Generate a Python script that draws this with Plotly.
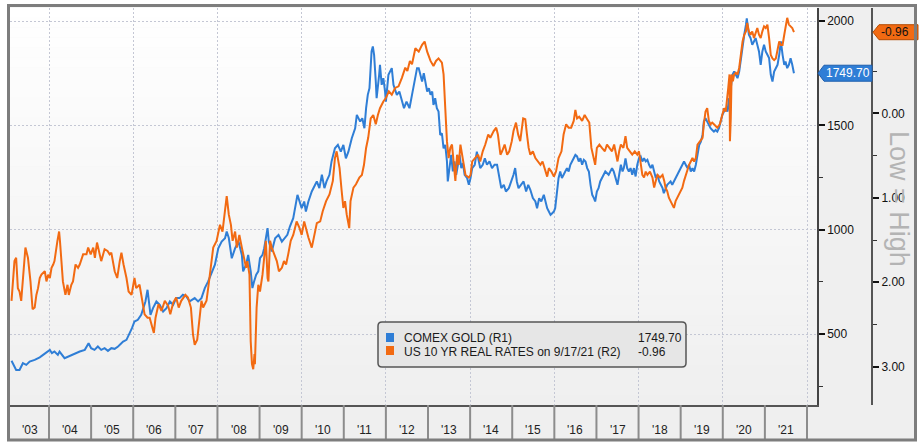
import plotly.graph_objects as go

# ---------------- data ----------------
gold_t = [2003.11, 2003.22, 2003.30, 2003.38, 2003.46, 2003.54, 2003.66, 2003.78, 2003.86, 2003.96,
          2004.02, 2004.07, 2004.13, 2004.21, 2004.25, 2004.37, 2004.45, 2004.53, 2004.61, 2004.73,
          2004.85, 2004.94, 2005.00, 2005.08, 2005.16, 2005.24, 2005.32, 2005.40, 2005.48, 2005.56,
          2005.64, 2005.76, 2005.84, 2005.92, 2005.97, 2006.03, 2006.11, 2006.19, 2006.29, 2006.34,
          2006.41, 2006.47, 2006.55, 2006.63, 2006.71, 2006.79, 2006.87, 2006.95, 2007.02, 2007.10,
          2007.18, 2007.26, 2007.34, 2007.46, 2007.54, 2007.62, 2007.70, 2007.78, 2007.87, 2007.94,
          2008.02, 2008.10, 2008.18, 2008.22, 2008.27, 2008.34, 2008.42, 2008.50, 2008.58, 2008.61,
          2008.68, 2008.73, 2008.79, 2008.83, 2008.87, 2008.92, 2008.97, 2009.01, 2009.07, 2009.11,
          2009.15, 2009.19, 2009.22, 2009.29, 2009.37, 2009.45, 2009.53, 2009.60, 2009.66, 2009.72,
          2009.80, 2009.90, 2009.95, 2010.00, 2010.06, 2010.10, 2010.16, 2010.24, 2010.32, 2010.36,
          2010.42, 2010.48, 2010.54, 2010.59, 2010.66, 2010.71, 2010.79, 2010.86, 2010.93, 2010.99,
          2011.05, 2011.11, 2011.19, 2011.27, 2011.31, 2011.39, 2011.44, 2011.49, 2011.53, 2011.57,
          2011.61, 2011.64, 2011.66, 2011.69, 2011.72, 2011.76, 2011.78, 2011.84, 2011.86, 2011.90,
          2011.94, 2011.98, 2012.00, 2012.06, 2012.14, 2012.18, 2012.26, 2012.32, 2012.38, 2012.43,
          2012.49, 2012.56, 2012.62, 2012.68, 2012.74, 2012.78, 2012.82, 2012.86, 2012.90, 2012.94,
          2012.98, 2013.02, 2013.06, 2013.10, 2013.13, 2013.17, 2013.21, 2013.25, 2013.29, 2013.33,
          2013.37, 2013.41, 2013.45, 2013.47, 2013.51, 2013.55, 2013.59, 2013.63, 2013.67, 2013.71,
          2013.75, 2013.79, 2013.83, 2013.87, 2013.93, 2013.97, 2014.01, 2014.05, 2014.11, 2014.16,
          2014.20, 2014.24, 2014.30, 2014.35, 2014.40, 2014.46, 2014.52, 2014.58, 2014.64, 2014.69,
          2014.74, 2014.80, 2014.85, 2014.92, 2014.98, 2015.03, 2015.07, 2015.11, 2015.15, 2015.22,
          2015.27, 2015.33, 2015.38, 2015.43, 2015.49, 2015.55, 2015.59, 2015.64, 2015.69, 2015.75,
          2015.79, 2015.83, 2015.87, 2015.91, 2015.95, 2015.99, 2016.02, 2016.06, 2016.10, 2016.14,
          2016.18, 2016.22, 2016.26, 2016.30, 2016.34, 2016.38, 2016.42, 2016.46, 2016.50, 2016.54,
          2016.58, 2016.62, 2016.66, 2016.70, 2016.74, 2016.78, 2016.82, 2016.86, 2016.90, 2016.94,
          2016.97, 2017.01, 2017.05, 2017.09, 2017.13, 2017.17, 2017.21, 2017.29, 2017.33, 2017.37,
          2017.41, 2017.45, 2017.50, 2017.54, 2017.58, 2017.62, 2017.65, 2017.69, 2017.73, 2017.77,
          2017.81, 2017.85, 2017.89, 2017.93, 2017.97, 2018.01, 2018.05, 2018.09, 2018.13, 2018.17,
          2018.21, 2018.25, 2018.29, 2018.33, 2018.37, 2018.41, 2018.45, 2018.49, 2018.53, 2018.57,
          2018.60, 2018.64, 2018.68, 2018.72, 2018.76, 2018.80, 2018.84, 2018.88, 2018.92, 2018.96,
          2019.00, 2019.04, 2019.08, 2019.12, 2019.16, 2019.20, 2019.24, 2019.28, 2019.32, 2019.36,
          2019.40, 2019.44, 2019.48, 2019.52, 2019.55, 2019.59, 2019.63, 2019.67, 2019.71, 2019.75,
          2019.79, 2019.83, 2019.87, 2019.91, 2019.95, 2019.99, 2020.03, 2020.07, 2020.11, 2020.15,
          2020.17, 2020.19, 2020.23, 2020.27, 2020.31, 2020.35, 2020.39, 2020.43, 2020.47, 2020.51,
          2020.55, 2020.57, 2020.60, 2020.62, 2020.66, 2020.70, 2020.74, 2020.78, 2020.82, 2020.86,
          2020.90, 2020.94, 2020.98, 2021.02, 2021.06, 2021.10, 2021.14, 2021.18, 2021.22, 2021.26,
          2021.30, 2021.34, 2021.38, 2021.42, 2021.46, 2021.49, 2021.53, 2021.57, 2021.61, 2021.65,
          2021.69]
gold_v = [372, 328, 328, 360, 352, 368, 376, 388, 400, 416,
          424, 408, 416, 400, 416, 384, 392, 400, 408, 416,
          424, 456, 432, 424, 440, 424, 432, 419, 432, 429,
          440, 464, 472, 504, 528, 560, 568, 592, 656, 712,
          592, 624, 656, 640, 608, 624, 656, 640, 672, 672,
          688, 680, 656, 672, 656, 672, 720, 752, 800, 832,
          911, 943, 959, 991, 960, 863, 911, 943, 879, 800,
          832, 879, 800, 720, 752, 784, 800, 863, 879, 911,
          959, 1007, 943, 895, 959, 975, 943, 959, 975, 1015,
          1055, 1167, 1135, 1103, 1135, 1087, 1135, 1183, 1215, 1231,
          1199, 1263, 1199, 1231, 1263, 1327, 1390, 1406, 1374, 1406,
          1342, 1374, 1438, 1486, 1550, 1518, 1534, 1486, 1582, 1646,
          1678, 1774, 1854, 1878, 1838, 1710, 1630, 1742, 1790, 1694,
          1726, 1662, 1614, 1742, 1774, 1694, 1646, 1662, 1614, 1582,
          1614, 1582, 1646, 1710, 1774, 1774, 1742, 1710, 1750, 1694,
          1662, 1678, 1646, 1662, 1598, 1630, 1582, 1566, 1454, 1462,
          1390, 1406, 1327, 1231, 1311, 1358, 1279, 1327, 1263, 1311,
          1358, 1295, 1319, 1263, 1247, 1215, 1247, 1295, 1311, 1374,
          1327, 1295, 1311, 1342, 1311, 1327, 1295, 1311, 1311, 1247,
          1199, 1215, 1183, 1199, 1231, 1263, 1295, 1231, 1199, 1215,
          1231, 1183, 1215, 1191, 1151, 1135, 1103, 1151, 1135, 1167,
          1135, 1103, 1087, 1071, 1079, 1087, 1103, 1183, 1247, 1279,
          1247, 1263, 1279, 1295, 1279, 1311, 1327, 1342, 1358, 1351,
          1327, 1342, 1311, 1335, 1327, 1295, 1279, 1215, 1167, 1151,
          1135, 1183, 1199, 1231, 1247, 1263, 1279, 1263, 1279, 1295,
          1279, 1247, 1215, 1263, 1311, 1279, 1295, 1342, 1295, 1279,
          1295, 1263, 1295, 1255, 1311, 1342, 1351, 1327, 1342, 1327,
          1335, 1311, 1295, 1311, 1279, 1247, 1263, 1231, 1215, 1199,
          1175, 1199, 1215, 1223, 1231, 1215, 1231, 1247, 1263, 1279,
          1295, 1311, 1327, 1311, 1295, 1311, 1279, 1295, 1279, 1311,
          1358, 1406, 1422, 1454, 1518, 1534, 1518, 1502, 1486, 1478,
          1470, 1478, 1470, 1486, 1518, 1550, 1566, 1582, 1566, 1630,
          1566, 1678, 1742, 1758, 1742, 1726, 1758, 1822, 1886, 1934,
          1981, 2013, 1966, 1934, 1918, 1886, 1902, 1918, 1886, 1854,
          1790, 1854, 1886, 1854, 1838, 1822, 1742, 1710, 1758, 1774,
          1790, 1838, 1902, 1838, 1790, 1806, 1774, 1790, 1822, 1790,
          1749.70]

rate_t = [2003.11, 2003.18, 2003.22, 2003.26, 2003.30, 2003.34, 2003.44, 2003.50, 2003.56, 2003.61,
          2003.66, 2003.70, 2003.74, 2003.78, 2003.82, 2003.90, 2003.94, 2003.98, 2004.02, 2004.06,
          2004.10, 2004.13, 2004.20, 2004.24, 2004.26, 2004.33, 2004.39, 2004.44, 2004.47, 2004.53,
          2004.57, 2004.63, 2004.69, 2004.73, 2004.81, 2004.89, 2004.93, 2004.99, 2005.05, 2005.09,
          2005.14, 2005.20, 2005.24, 2005.32, 2005.39, 2005.44, 2005.48, 2005.56, 2005.62, 2005.68,
          2005.72, 2005.77, 2005.84, 2005.89, 2005.96, 2006.03, 2006.07, 2006.15, 2006.19, 2006.27,
          2006.34, 2006.39, 2006.49, 2006.53, 2006.60, 2006.67, 2006.75, 2006.83, 2006.88, 2006.95,
          2007.02, 2007.08, 2007.14, 2007.24, 2007.30, 2007.37, 2007.42, 2007.46, 2007.52, 2007.58,
          2007.62, 2007.66, 2007.74, 2007.79, 2007.86, 2007.90, 2007.98, 2008.06, 2008.12, 2008.22,
          2008.27, 2008.32, 2008.36, 2008.42, 2008.46, 2008.52, 2008.58, 2008.63, 2008.68, 2008.71,
          2008.76, 2008.79, 2008.82, 2008.85, 2008.88, 2008.89, 2008.93, 2008.97, 2009.01, 2009.07,
          2009.11, 2009.15, 2009.19, 2009.21, 2009.25, 2009.29, 2009.35, 2009.41, 2009.46, 2009.53,
          2009.58, 2009.63, 2009.68, 2009.74, 2009.80, 2009.88, 2009.95, 2010.00, 2010.06, 2010.10,
          2010.16, 2010.24, 2010.29, 2010.36, 2010.44, 2010.50, 2010.58, 2010.66, 2010.74, 2010.79,
          2010.83, 2010.90, 2010.95, 2010.99, 2011.03, 2011.07, 2011.13, 2011.16, 2011.23, 2011.29,
          2011.37, 2011.43, 2011.48, 2011.53, 2011.58, 2011.64, 2011.70, 2011.76, 2011.81, 2011.86,
          2011.94, 2012.00, 2012.07, 2012.14, 2012.22, 2012.30, 2012.38, 2012.46, 2012.51, 2012.57,
          2012.62, 2012.70, 2012.78, 2012.86, 2012.92, 2012.98, 2013.06, 2013.13, 2013.19, 2013.25,
          2013.33, 2013.37, 2013.41, 2013.45, 2013.49, 2013.53, 2013.57, 2013.61, 2013.65, 2013.69,
          2013.73, 2013.77, 2013.81, 2013.85, 2013.89, 2013.97, 2014.01, 2014.05, 2014.12, 2014.19,
          2014.24, 2014.30, 2014.36, 2014.43, 2014.48, 2014.56, 2014.62, 2014.66, 2014.72, 2014.76,
          2014.82, 2014.88, 2014.93, 2014.99, 2015.03, 2015.09, 2015.14, 2015.19, 2015.26, 2015.31,
          2015.35, 2015.39, 2015.43, 2015.49, 2015.55, 2015.61, 2015.67, 2015.72, 2015.77, 2015.83,
          2015.87, 2015.93, 2015.99, 2016.04, 2016.10, 2016.17, 2016.22, 2016.28, 2016.34, 2016.40,
          2016.46, 2016.50, 2016.54, 2016.59, 2016.66, 2016.72, 2016.78, 2016.83, 2016.88, 2016.94,
          2016.97, 2017.01, 2017.07, 2017.13, 2017.20, 2017.25, 2017.31, 2017.37, 2017.42, 2017.46,
          2017.50, 2017.54, 2017.58, 2017.64, 2017.69, 2017.73, 2017.80, 2017.85, 2017.91, 2017.97,
          2018.01, 2018.05, 2018.09, 2018.13, 2018.17, 2018.21, 2018.27, 2018.33, 2018.37, 2018.41,
          2018.45, 2018.51, 2018.57, 2018.61, 2018.64, 2018.68, 2018.72, 2018.76, 2018.80, 2018.84,
          2018.88, 2018.92, 2018.96, 2019.00, 2019.04, 2019.08, 2019.12, 2019.16, 2019.20, 2019.24,
          2019.28, 2019.32, 2019.36, 2019.40, 2019.46, 2019.52, 2019.55, 2019.59, 2019.63, 2019.67,
          2019.71, 2019.75, 2019.79, 2019.83, 2019.87, 2019.93, 2019.99, 2020.03, 2020.07, 2020.11,
          2020.13, 2020.16, 2020.17, 2020.19, 2020.21, 2020.24, 2020.27, 2020.31, 2020.35, 2020.39,
          2020.43, 2020.47, 2020.51, 2020.55, 2020.58, 2020.62, 2020.66, 2020.70, 2020.74, 2020.78,
          2020.82, 2020.86, 2020.90, 2020.94, 2020.98, 2021.02, 2021.06, 2021.10, 2021.14, 2021.18,
          2021.22, 2021.26, 2021.30, 2021.34, 2021.38, 2021.42, 2021.46, 2021.49, 2021.53, 2021.57,
          2021.61, 2021.65, 2021.69]
rate_v = [2.22, 1.75, 1.71, 2.07, 2.11, 2.22, 1.59, 1.71, 1.99, 2.32,
          2.30, 2.15, 2.07, 1.95, 1.91, 1.87, 1.99, 1.91, 1.95, 1.83,
          1.79, 1.75, 1.51, 1.40, 1.51, 1.99, 2.15, 2.03, 2.15, 2.03,
          1.99, 1.79, 1.83, 1.79, 1.67, 1.67, 1.59, 1.67, 1.59, 1.71,
          1.53, 1.67, 1.75, 1.61, 1.63, 1.67, 1.65, 1.87, 1.95, 1.75,
          1.65, 1.79, 1.95, 2.11, 2.15, 1.95, 2.07, 2.03, 2.15, 2.38,
          2.42, 2.42, 2.60, 2.42, 2.26, 2.34, 2.22, 2.28, 2.38, 2.24,
          2.18, 2.30, 2.22, 2.15, 2.18, 2.30, 2.62, 2.74, 2.68, 2.42,
          2.22, 2.30, 2.22, 2.03, 1.75, 1.59, 1.51, 1.32, 1.40, 0.98,
          1.20, 1.32, 1.51, 1.40, 1.59, 1.44, 1.59, 1.71, 1.83, 1.75,
          1.91, 2.70, 2.97, 3.03, 2.85, 2.97, 2.30, 2.03, 2.11, 1.91,
          1.67, 1.51, 1.95, 1.99, 1.51, 1.59, 1.67, 1.75, 1.87, 1.83,
          1.75, 1.79, 1.67, 1.51, 1.44, 1.28, 1.36, 1.44, 1.28, 1.36,
          1.47, 1.59, 1.47, 1.30, 1.28, 1.16, 1.04, 0.96, 0.80, 0.53,
          0.45, 0.65, 0.92, 1.12, 1.04, 1.20, 1.36, 1.04, 0.88, 0.84,
          0.76, 0.73, 0.61, 0.41, 0.29, 0.06, 0.02, 0.13, 0.02, -0.06,
          -0.14, -0.18, -0.26, -0.22, -0.30, -0.32, -0.42, -0.54, -0.50, -0.62,
          -0.58, -0.77, -0.73, -0.81, -0.85, -0.73, -0.62, -0.56, -0.62, -0.65,
          -0.60, -0.46, -0.06, 0.33, 0.53, 0.41, 0.37, 0.61, 0.80, 0.49,
          0.61, 0.37, 0.49, 0.61, 0.73, 0.76, 0.73, 0.57, 0.53, 0.49,
          0.57, 0.45, 0.37, 0.25, 0.29, 0.21, 0.17, 0.25, 0.49, 0.45,
          0.37, 0.49, 0.45, 0.33, 0.21, 0.11, 0.25, 0.33, 0.06, 0.07,
          0.25, 0.41, 0.49, 0.45, 0.53, 0.57, 0.61, 0.57, 0.65, 0.75,
          0.65, 0.69, 0.75, 0.69, 0.53, 0.45, 0.25, 0.13, 0.17, 0.17,
          0.09, -0.04, 0.06, 0.04, 0.09, 0.02, 0.07, 0.11, 0.41, 0.53,
          0.61, 0.41, 0.37, 0.41, 0.45, 0.37, 0.41, 0.45, 0.37, 0.49,
          0.57, 0.45, 0.37, 0.41, 0.27, 0.41, 0.45, 0.49, 0.45, 0.49,
          0.45, 0.61, 0.73, 0.76, 0.69, 0.73, 0.69, 0.76, 0.88, 0.80,
          0.73, 0.76, 0.73, 0.80, 0.88, 0.92, 1.00, 1.04, 1.08, 1.12,
          1.04, 1.00, 0.96, 0.92, 0.88, 0.80, 0.73, 0.69, 0.61, 0.57,
          0.53, 0.57, 0.53, 0.37, 0.33, 0.29, 0.13, -0.02, -0.06, 0.09,
          0.13, 0.11, 0.13, 0.15, 0.17, 0.13, 0.02, -0.06, -0.02, -0.18,
          -0.30, -0.46, 0.33, 0.06, -0.46, -0.38, -0.46, -0.48, -0.46, -0.54,
          -0.73, -0.85, -0.93, -0.97, -1.07, -0.97, -0.93, -0.97, -0.89, -0.95,
          -1.01, -0.93, -0.89, -0.97, -1.03, -1.01, -1.05, -0.89, -0.69, -0.65,
          -0.63, -0.65, -0.77, -0.85, -0.81, -0.81, -0.93, -1.01, -1.13, -1.05,
          -1.03, -1.01, -0.96]

year_labels = ["'03", "'04", "'05", "'06", "'07", "'08", "'09", "'10", "'11", "'12",
               "'13", "'14", "'15", "'16", "'17", "'18", "'19", "'20", "'21"]
label_years = [2003, 2004, 2005, 2006, 2007, 2008, 2009, 2010, 2011, 2012,
               2013, 2014, 2015, 2016, 2017, 2018, 2019, 2020, 2021]
gold_ticks = [500, 1000, 1500, 2000]
gold_minor = [250, 750, 1250, 1750]
rate_ticks = [0, 1, 2, 3]
rate_minor = [-0.5, 0.5, 1.5, 2.5]
gold_name = "COMEX GOLD (R1)"
rate_name = "US 10 YR REAL RATES on 9/17/21 (R2)"
side_note = "Low = High"

# ---------------- geometry / style ----------------
BLUE = "#2f7ed6"
ORANGE = "#f26a12"
GRID = "#c4c7d4"
GRIDDASH = "2px,2px"
FONT = "Liberation Sans"

W, H = 920, 445
PL, PR, PT, PB = 10, 817, 8, 405      # plot area (px)
R2X = 872                              # second right axis (px)


def px(x):
    return (x - PL) / (R2X - PL)


def py(y):
    return (PB - y) / (PB - PT)


# x: year boundary 2004 at px 49, 2022 at px 807
XPPY = (807 - 49) / 18.0
X0 = 2004 + (PL - 49) / XPPY
X1 = 2004 + (PR - 49) / XPPY
# gold axis: 2000 at y=21, 500 at y=334
GK = (334 - 21) / 1500.0
G_TOP = 2000 + (21 - PT) / GK
G_BOT = 500 - (PB - 334) / GK
# rates axis (inverted): 0 at y=113.3, 3 at y=366.7
RK = (366.7 - 113.3) / 3.0
R_TOP = -(113.3 - PT) / RK
R_BOT = (PB - 113.3) / RK


def gold_px(v):
    return 21 + (2000 - v) * GK


def rate_px(v):
    return 113.3 + v * RK


fig = go.Figure()
fig.add_trace(go.Scatter(x=gold_t, y=gold_v, mode="lines", name=gold_name,
                         line=dict(color=BLUE, width=2), xaxis="x", yaxis="y",
                         hoverinfo="skip"))
fig.add_trace(go.Scatter(x=rate_t, y=rate_v, mode="lines", name=rate_name,
                         line=dict(color=ORANGE, width=2), xaxis="x", yaxis="y2",
                         hoverinfo="skip"))

shapes = []
# outer light-gray panel
shapes.append(dict(type="rect", xref="paper", yref="paper", layer="below",
                   x0=px(7), x1=px(917), y0=py(441), y1=py(5),
                   fillcolor="#efefef", line=dict(width=0)))
# vertical gradient inside plot area
NB = 40
for i in range(NB):
    y0p = PT + (PB - PT) * i / NB
    y1p = PT + (PB - PT) * (i + 1) / NB
    c = int(round(255 - 16 * (i + 0.5) / NB))
    shapes.append(dict(type="rect", xref="paper", yref="paper", layer="below",
                       x0=px(PL), x1=px(PR), y0=py(y1p), y1=py(y0p) + 0.001,
                       fillcolor=f"rgb({c},{c},{c})", line=dict(width=0)))
# year separators in the label band
for yr in label_years[1:] + [label_years[-1] + 1]:
    shapes.append(dict(type="line", xref="x", yref="paper",
                       x0=yr, x1=yr, y0=py(405), y1=py(441),
                       line=dict(color="#8c8c8c", width=2)))


def poly(points):
    d = "M " + " L ".join(f"{px(a):.5f},{py(b):.5f}" for a, b in points) + " Z"
    return d


# legend box (rounded)
lx0, lx1, ly0, ly1, r = 378, 686, 322, 367, 4
legend_path = (f"M {px(lx0 + r)},{py(ly0)} L {px(lx1 - r)},{py(ly0)} "
               f"Q {px(lx1)},{py(ly0)} {px(lx1)},{py(ly0 + r)} L {px(lx1)},{py(ly1 - r)} "
               f"Q {px(lx1)},{py(ly1)} {px(lx1 - r)},{py(ly1)} L {px(lx0 + r)},{py(ly1)} "
               f"Q {px(lx0)},{py(ly1)} {px(lx0)},{py(ly1 - r)} L {px(lx0)},{py(ly0 + r)} "
               f"Q {px(lx0)},{py(ly0)} {px(lx0 + r)},{py(ly0)} Z")
shapes.append(dict(type="path", xref="paper", yref="paper", layer="above",
                   path=legend_path, fillcolor="#e6e6e6",
                   line=dict(color="#555555", width=1.5)))
shapes.append(dict(type="rect", xref="paper", yref="paper", layer="above",
                   x0=px(386), x1=px(394), y0=py(342), y1=py(333),
                   fillcolor=BLUE, line=dict(width=0)))
shapes.append(dict(type="rect", xref="paper", yref="paper", layer="above",
                   x0=px(386), x1=px(394), y0=py(355), y1=py(346),
                   fillcolor=ORANGE, line=dict(width=0)))

# last-value tags
gy = gold_px(gold_v[-1])
shapes.append(dict(type="path", xref="paper", yref="paper", layer="above",
                   path=poly([(818, gy), (824, gy - 8), (872, gy - 8), (872, gy + 8), (824, gy + 8)]),
                   fillcolor=BLUE, line=dict(color="#1f5fae", width=1)))
ry = rate_px(rate_v[-1])
shapes.append(dict(type="path", xref="paper", yref="paper", layer="above",
                   path=poly([(873, ry), (879, ry - 7.5), (918, ry - 7.5), (918, ry + 7.5), (879, ry + 7.5)]),
                   fillcolor=ORANGE, line=dict(color="#b44a00", width=1)))
# outer frame
shapes.append(dict(type="rect", xref="paper", yref="paper", layer="above",
                   x0=px(8.5), x1=px(915.5), y0=py(440), y1=py(5.5),
                   fillcolor="rgba(0,0,0,0)", line=dict(color="#7d7d7d", width=3)))

ann = []
for yr, lab in zip(label_years, year_labels):
    lo = max(yr, X0)
    hi = yr + 1
    ann.append(dict(x=(lo + hi) / 2, y=py(430), xref="x", yref="paper", text=lab,
                    showarrow=False, xanchor="center", yanchor="middle",
                    font=dict(family=FONT, size=12, color="#222222")))
ann.append(dict(x=px(402), y=py(338), xref="paper", yref="paper", text=gold_name,
                showarrow=False, xanchor="left", yanchor="middle",
                font=dict(family=FONT, size=12, color="#1a1a1a")))
ann.append(dict(x=px(402), y=py(352), xref="paper", yref="paper", text=rate_name,
                showarrow=False, xanchor="left", yanchor="middle",
                font=dict(family=FONT, size=12, color="#1a1a1a")))
ann.append(dict(x=px(636), y=py(338), xref="paper", yref="paper", text=f"{gold_v[-1]:.2f}",
                showarrow=False, xanchor="left", yanchor="middle",
                font=dict(family=FONT, size=12, color="#1a1a1a")))
ann.append(dict(x=px(636), y=py(352), xref="paper", yref="paper", text=f"{rate_v[-1]:.2f}",
                showarrow=False, xanchor="left", yanchor="middle",
                font=dict(family=FONT, size=12, color="#1a1a1a")))
ann.append(dict(x=px(848), y=py(gy), xref="paper", yref="paper", text=f"{gold_v[-1]:.2f}",
                showarrow=False, xanchor="center", yanchor="middle",
                font=dict(family=FONT, size=12, color="#ffffff")))
ann.append(dict(x=px(895), y=py(ry), xref="paper", yref="paper", text=f"{rate_v[-1]:.2f}",
                showarrow=False, xanchor="center", yanchor="middle",
                font=dict(family=FONT, size=12, color="#111111")))
ann.append(dict(x=px(899), y=py(199), xref="paper", yref="paper", text=side_note,
                showarrow=False, textangle=90, xanchor="center", yanchor="middle",
                font=dict(family=FONT, size=27, color="#b4b4b4")))

fig.update_layout(
    width=W, height=H,
    margin=dict(l=PL, r=W - R2X, t=PT, b=H - PB, pad=0),
    paper_bgcolor="#ffffff", plot_bgcolor="rgba(0,0,0,0)",
    showlegend=False,
    font=dict(family=FONT, size=12, color="#111111"),
    shapes=shapes, annotations=ann,
    xaxis=dict(domain=[0, px(PR)], range=[X0, X1], tickmode="linear", tick0=2004, dtick=2,
               showticklabels=False, ticks="", showgrid=True, gridcolor=GRID, griddash=GRIDDASH,
               gridwidth=1, zeroline=False, showline=True, linecolor="#555555", linewidth=1.5),
    yaxis=dict(range=[G_BOT, G_TOP], side="right", anchor="x", tickmode="array",
               tickvals=gold_ticks, ticks="outside", ticklen=6, tickwidth=2, tickcolor="#111111",
               showgrid=True, gridcolor=GRID, griddash=GRIDDASH, gridwidth=1, zeroline=False,
               showline=True, linecolor="#444444", linewidth=1.5,
               tickfont=dict(family=FONT, size=12, color="#111111"),
               minor=dict(tickmode="array", tickvals=gold_minor, ticks="outside", ticklen=4,
                          tickwidth=1, tickcolor="#333333", showgrid=False)),
    yaxis2=dict(range=[R_BOT, R_TOP], overlaying="y", side="right", anchor="free", position=1.0,
                tickmode="array", tickvals=rate_ticks, tickformat=".2f", ticks="outside",
                ticklen=6, tickwidth=2, tickcolor="#111111", showgrid=False, zeroline=False,
                showline=True, linecolor="#555555", linewidth=2,
                tickfont=dict(family=FONT, size=12, color="#111111"),
                minor=dict(tickmode="array", tickvals=rate_minor, ticks="outside", ticklen=4,
                           tickwidth=1, tickcolor="#333333", showgrid=False)),
)

fig.write_html("out.html", config={"displayModeBar": False},
               post_script="document.body.style.margin='0px';document.body.style.overflow='hidden';")
